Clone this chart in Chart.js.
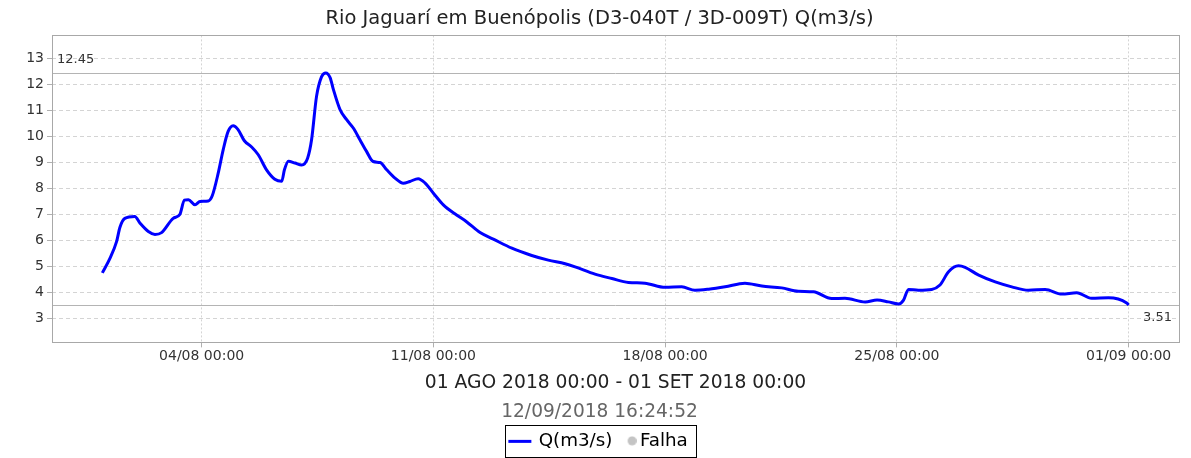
<!DOCTYPE html>
<html>
<head>
<meta charset="utf-8">
<title>Rio Jaguarí em Buenópolis</title>
<script src="https://cdn.jsdelivr.net/npm/chart.js@4.4.0/dist/chart.umd.min.js"></script>
<style>
    html, body { margin: 0; padding: 0; background: #fff; }
</style>
</head>
<body>
<canvas id="flow_chart" width="1191" height="458"></canvas>
<script>
// days since 01/08/2018 00:00 and the flow read at each one (m3/s)
const day_offsets = [
    0, 0.23, 0.43, 0.53, 0.68, 0.98, 1.14, 1.39, 1.59, 1.79,
    2.14, 2.34, 2.48, 2.6, 2.8, 2.95, 3.2, 3.32, 3.5, 3.65,
    3.8, 3.95, 4.1, 4.29, 4.51, 4.71, 4.96, 5.21, 5.42, 5.5,
    5.62, 5.82, 6.02, 6.2, 6.32, 6.47, 6.62, 6.75, 6.88, 6.98,
    7.18, 7.38, 7.58, 7.78, 7.98, 8.18, 8.39, 8.59, 8.84, 9.09,
    9.29, 9.54, 9.75, 10.0, 10.3, 10.7, 11.0, 11.41, 11.81, 12.37,
    12.97, 13.47, 13.98, 14.28, 14.88, 15.39, 15.89, 16.39, 17.0, 17.5,
    17.9, 18.31, 18.81, 19.41, 19.92, 20.52, 21.02, 21.48, 22.03, 22.43,
    23.04, 23.4, 23.74, 24.05, 24.2, 24.35, 24.65, 25.05, 25.3, 25.56,
    25.86, 26.06, 26.47, 26.97, 27.47, 27.97, 28.48, 28.98, 29.43, 29.88,
    30.39, 30.94, 31.0
];
const flow_values = [
    4.75, 5.31, 5.95, 6.5, 6.85, 6.92, 6.66, 6.34, 6.23, 6.3,
    6.85, 7.0, 7.55, 7.57, 7.37, 7.5, 7.52, 7.72, 8.59, 9.49,
    10.2, 10.42, 10.27, 9.84, 9.6, 9.3, 8.72, 8.36, 8.28, 8.72,
    9.05, 8.98, 8.91, 9.17, 9.88, 11.55, 12.3, 12.45, 12.27, 11.81,
    11.04, 10.65, 10.33, 9.88, 9.43, 9.04, 9.0, 8.72, 8.4, 8.2,
    8.27, 8.38, 8.21, 7.82, 7.37, 6.98, 6.72, 6.3, 6.05, 5.7,
    5.42, 5.24, 5.1, 4.98, 4.7, 4.53, 4.38, 4.35, 4.19, 4.21,
    4.08, 4.12, 4.21, 4.35, 4.24, 4.17, 4.04, 4.02, 3.76, 3.77,
    3.63, 3.7, 3.63, 3.55, 3.7, 4.11, 4.08, 4.11, 4.28, 4.79,
    5.02, 4.96, 4.66, 4.4, 4.21, 4.08, 4.11, 3.93, 3.98, 3.77,
    3.79, 3.59, 3.51
];

const x_tick_days = [3, 10, 17, 24, 31];
const x_tick_labels = ['04/08 00:00', '11/08 00:00', '18/08 00:00', '25/08 00:00', '01/09 00:00'];
const y_ticks = [3, 4, 5, 6, 7, 8, 9, 10, 11, 12, 13];

const station_title = 'Rio Jaguarí em Buenópolis (D3-040T / 3D-009T) Q(m3/s)';
const period_label = '01 AGO 2018 00:00 - 01 SET 2018 00:00';
const generated_at = '12/09/2018 16:24:52';
const series_label = 'Q(m3/s)';
const failure_label = 'Falha';

Chart.defaults.font.family = '"DejaVu Sans", sans-serif';
Chart.defaults.color = '#333';

const flow_max = Math.max(...flow_values);
const flow_min = Math.min(...flow_values);

// little bitmaps for the legend: a blue stroke and a grey dot
function legend_icon(draw) {
    const c = document.createElement('canvas');
    c.width = 30;
    c.height = 10;
    draw(c.getContext('2d'));
    return c;
}
const line_icon = legend_icon((ctx) => {
    ctx.fillStyle = '#0000ff';
    ctx.fillRect(3, 4, 23, 3);
});
const dot_icon = legend_icon((ctx) => {
    ctx.fillStyle = '#c4c4c4';
    ctx.beginPath();
    ctx.arc(25.5, 5, 4.5, 0, Math.PI * 2);
    ctx.fill();
});

const points = day_offsets.map((d, i) => { return {x: d, y: flow_values[i]} });

// plot frame, min/max guide lines with their values, and the legend frame
const extras = {
    id: 'extras',
    beforeDatasetsDraw(chart) {
        const {ctx, chartArea: a, scales: {y}} = chart;
        ctx.save();
        ctx.strokeStyle = '#b4b4b4';
        ctx.lineWidth = 1;
        [flow_max, flow_min].forEach((v) => {
            const py = Math.round(y.getPixelForValue(v)) + 0.5;
            ctx.beginPath();
            ctx.moveTo(a.left, py);
            ctx.lineTo(a.right, py);
            ctx.stroke();
        });
        ctx.strokeStyle = '#a8a8a8';
        ctx.strokeRect(Math.round(a.left) + 0.5, Math.round(a.top) + 0.5,
            Math.round(a.right - a.left), Math.round(a.bottom - a.top));

        ctx.fillStyle = '#333';
        ctx.font = '13px "DejaVu Sans"';
        ctx.textBaseline = 'middle';
        ctx.textAlign = 'left';
        ctx.fillText(flow_max.toFixed(2), a.left + 5, y.getPixelForValue(flow_max) - 13);
        ctx.textAlign = 'right';
        ctx.fillText(flow_min.toFixed(2), a.right - 7, y.getPixelForValue(flow_min) + 13);
        ctx.restore();
    },
    afterDraw(chart) {
        const boxes = chart.legend.legendHitBoxes;
        if (!boxes || !boxes.length) return;
        const first = boxes[0];
        const last = boxes[boxes.length - 1];
        const mid = first.top + first.height / 2;
        const ctx = chart.ctx;
        ctx.save();
        ctx.strokeStyle = '#000';
        ctx.lineWidth = 1;
        const left = Math.round(first.left - 6) + 0.5;
        const right = Math.round(last.left + last.width + 8) + 0.5;
        ctx.strokeRect(left, Math.round(mid - 16) + 0.5, right - left, 32);
        ctx.restore();
    }
};

const config = {
    type: 'line',
    data: {
        datasets: [{
            label: series_label,
            data: points,
            borderColor: '#0000ff',
            borderWidth: 3,
            pointRadius: 0,
            cubicInterpolationMode: 'monotone',
            fill: false
        }, {
            label: failure_label,
            data: [],
            borderColor: '#c4c4c4',
            backgroundColor: '#c4c4c4'
        }]
    },
    options: {
        responsive: false,
        animation: false,
        layout: {
            padding: {left: 20, right: 12, top: 0, bottom: -2}
        },
        plugins: {
            title: {
                display: true,
                text: station_title,
                color: '#222',
                font: {size: 19.5, weight: 'normal'},
                padding: {top: 7, bottom: 5}
            },
            subtitle: {
                display: true,
                position: 'bottom',
                text: generated_at,
                color: '#666',
                font: {size: 18.6},
                padding: {top: 3, bottom: 8}
            },
            legend: {
                position: 'bottom',
                weight: 2000,
                labels: {
                    usePointStyle: true,
                    color: '#111',
                    padding: 0,
                    font: {size: 18.3},
                    generateLabels: () => [
                        {text: series_label, pointStyle: line_icon, datasetIndex: 0},
                        {text: failure_label, pointStyle: dot_icon, datasetIndex: 1}
                    ]
                }
            },
            tooltip: {enabled: false}
        },
        scales: {
            x: {
                type: 'linear',
                min: -1.52,
                max: 32.52,
                afterFit: (s) => { s.height = 56 },
                afterBuildTicks: (s) => { s.ticks = x_tick_days.map((v) => { return {value: v} }) },
                ticks: {
                    autoSkip: false,
                    maxRotation: 0,
                    padding: 1,
                    color: '#333',
                    font: {size: 14},
                    callback: (v) => x_tick_labels[x_tick_days.indexOf(v)]
                },
                grid: {color: '#d4d4d4', tickLength: 5, tickColor: '#b0b0b0', tickBorderDash: []},
                border: {display: false, dash: [2, 2]},
                title: {
                    display: true,
                    text: period_label,
                    color: '#222',
                    font: {size: 18.7},
                    padding: {top: 0, bottom: 4}
                }
            },
            y: {
                min: 2.07,
                max: 13.9,
                afterFit: (s) => { s.width = 32 },
                afterBuildTicks: (s) => { s.ticks = y_ticks.map((v) => { return {value: v} }) },
                ticks: {
                    padding: 3,
                    color: '#333',
                    font: {size: 14}
                },
                grid: {color: '#d4d4d4', tickLength: 5, tickColor: '#b0b0b0', tickBorderDash: []},
                border: {display: false, dash: [4, 3]}
            }
        }
    },
    plugins: [extras]
};

const flow_chart = new Chart(
    document.getElementById('flow_chart'),
    config
);
</script>
</body>
</html>
